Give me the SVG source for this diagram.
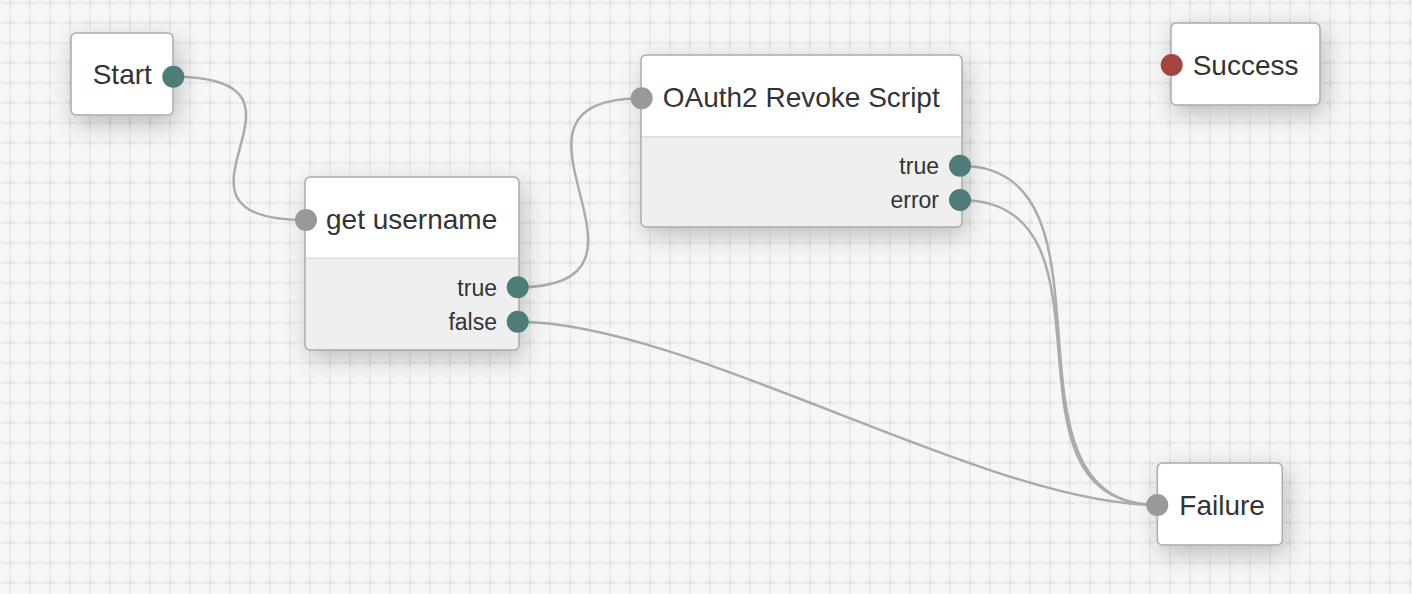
<svg xmlns="http://www.w3.org/2000/svg" width="1412" height="594" viewBox="0 0 1412 594">
<style>
.node{fill:#ffffff;stroke:#ababab;stroke-width:1.5}
.frame{fill:none;stroke:#ababab;stroke-width:1.5}
.body{fill:#efefef}
.head{fill:#ffffff}
.div{stroke:#dcdcdc;stroke-width:1.5}
.title{font-family:"Liberation Sans",Arial,sans-serif;font-size:28px;fill:#333333}
.lbl{font-family:"Liberation Sans",Arial,sans-serif;font-size:23px;fill:#333333;text-anchor:end}
.pin{fill:#999999}
.pout{fill:#4e7c76}
.pend{fill:#a5443f}
.conn{fill:none;stroke:#ababab;stroke-width:2.5}
</style>
<defs>
<pattern id="grid" patternUnits="userSpaceOnUse" x="0" y="-7.3" width="20" height="20">
<rect width="20" height="20" fill="#f6f6f6"/>
<line x1="10" y1="0" x2="10" y2="20" stroke="#eeeeee" stroke-width="2"/>
<line x1="0" y1="10" x2="20" y2="10" stroke="#eeeeee" stroke-width="2"/>
<line x1="10" y1="6" x2="10" y2="14" stroke="#e3e3e3" stroke-width="2"/>
<line x1="6" y1="10" x2="14" y2="10" stroke="#e3e3e3" stroke-width="2"/>
</pattern>
<filter id="sh" x="-50%" y="-50%" width="200%" height="200%">
<feDropShadow dx="4" dy="8" stdDeviation="12" flood-color="#000000" flood-opacity="0.24"/>
</filter>
</defs>
<rect width="1412" height="594" fill="url(#grid)"/>

<g id="connectors">
<path class="conn" d="M173.3,76.7 C345.3,76.7 134.3,220 306.3,220"/>
<path class="conn" d="M517.7,287.3 C689.7,287.3 469.7,98.3 641.7,98.3"/>
<path class="conn" d="M517.7,321.7 C689.7,321.7 985.3,505 1157.3,505"/>
<path class="conn" d="M960,165.7 C1132,165.7 985.3,505 1157.3,505"/>
<path class="conn" d="M960,200 C1132,200 985.3,505 1157.3,505"/>
</g>

<g id="node-start">
<rect class="node" x="71" y="33" width="102" height="82" rx="5" filter="url(#sh)"/>
<text class="title" x="92.7" y="84">Start</text>
<circle class="pout" cx="173.3" cy="76.7" r="11"/>
</g>

<g id="node-get-username">
<rect class="body" x="305" y="177" width="214" height="173" rx="5" filter="url(#sh)"/>
<path class="head" d="M305,258.3 V182 a5,5 0 0 1 5,-5 H514 a5,5 0 0 1 5,5 V258.3 Z"/>
<line class="div" x1="305.8" y1="258.3" x2="518.2" y2="258.3"/>
<rect class="frame" x="305" y="177" width="214" height="173" rx="5"/>
<text class="title" x="326" y="229">get username</text>
<text class="lbl" x="497" y="296">true</text>
<text class="lbl" x="497" y="329.5">false</text>
<circle class="pin" cx="306" cy="220" r="11"/>
<circle class="pout" cx="517.7" cy="287.3" r="11"/>
<circle class="pout" cx="517.7" cy="321.7" r="11"/>
</g>

<g id="node-oauth2-revoke-script">
<rect class="body" x="641" y="55" width="321" height="172" rx="5" filter="url(#sh)"/>
<path class="head" d="M641,136.7 V60 a5,5 0 0 1 5,-5 H957 a5,5 0 0 1 5,5 V136.7 Z"/>
<line class="div" x1="641.8" y1="136.7" x2="961.2" y2="136.7"/>
<rect class="frame" x="641" y="55" width="321" height="172" rx="5"/>
<text class="title" x="662.7" y="107">OAuth2 Revoke Script</text>
<text class="lbl" x="939" y="174">true</text>
<text class="lbl" x="939" y="208.3">error</text>
<circle class="pin" cx="641.7" cy="98.3" r="11"/>
<circle class="pout" cx="960" cy="165.7" r="11"/>
<circle class="pout" cx="960" cy="200" r="11"/>
</g>

<g id="node-success">
<rect class="node" x="1171" y="23" width="149" height="82" rx="5" filter="url(#sh)"/>
<text class="title" x="1192.7" y="75">Success</text>
<circle class="pend" cx="1171.7" cy="65" r="11"/>
</g>

<g id="node-failure">
<rect class="node" x="1157.3" y="463" width="125" height="82" rx="5" filter="url(#sh)"/>
<text class="title" x="1179.3" y="515">Failure</text>
<circle class="pin" cx="1157.3" cy="505" r="11"/>
</g>
</svg>
